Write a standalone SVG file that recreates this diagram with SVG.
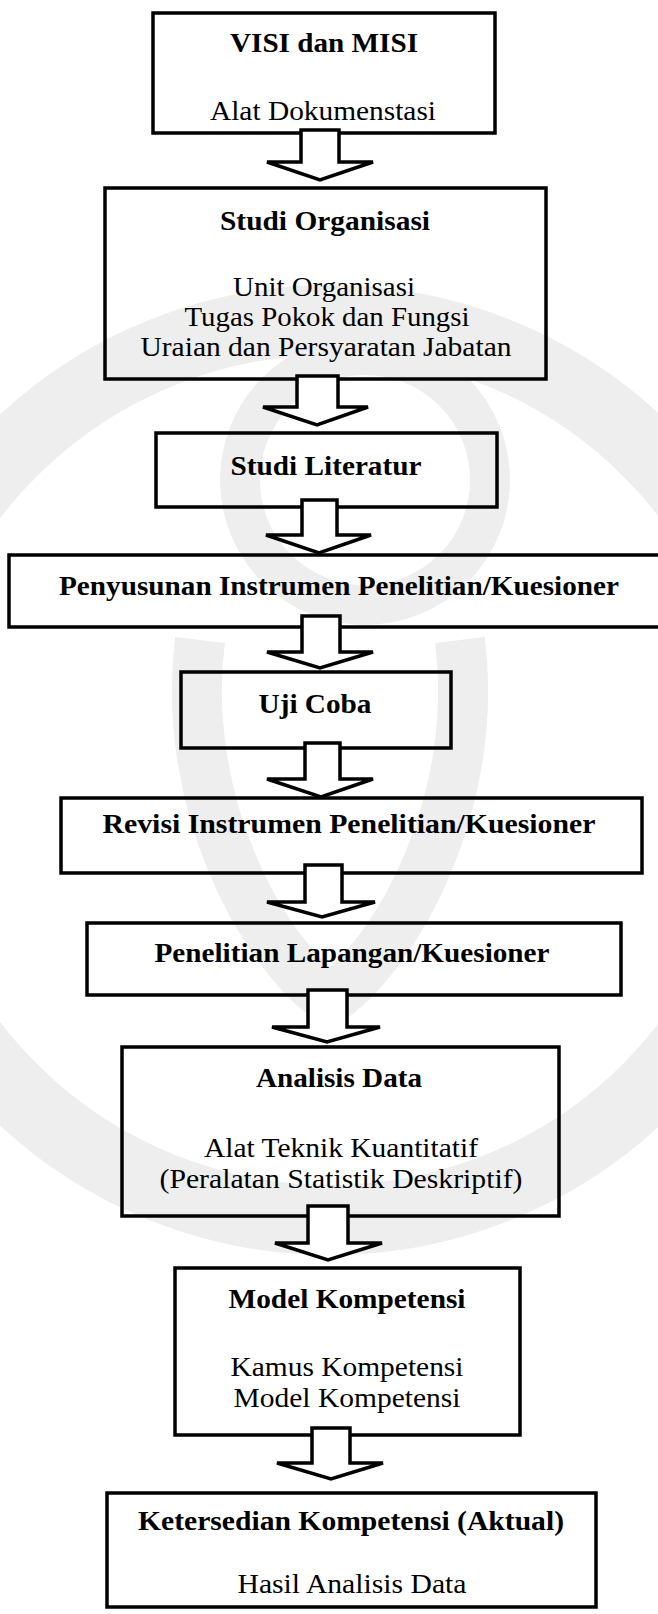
<svg xmlns="http://www.w3.org/2000/svg" width="658" height="1614" viewBox="0 0 658 1614">
<style>
.box{fill:none;stroke:#000;stroke-width:3.5}
.arr{fill:#fff;stroke:#000;stroke-width:3.5;stroke-linejoin:miter}
.t{font-family:"Liberation Serif","Times New Roman",serif;font-size:27px;fill:#000;text-anchor:middle}
.b{font-weight:bold;font-size:28px}
.wm{fill:none;stroke:#eeeeee}
</style>
<rect width="658" height="1614" fill="#fff"/>
<g id="watermark">
<circle class="wm" cx="330" cy="770" r="450" stroke-width="70"/>
<circle class="wm" cx="365" cy="480" r="125" stroke-width="40"/>
<path class="wm" d="M200,640 C180,800 260,950 330,1000 C400,950 480,800 460,640" stroke-width="50"/>
</g>
<g id="n1"><rect class="box" x="153" y="13" width="342" height="120"/>
<text class="t b" x="324" y="52" textLength="188" lengthAdjust="spacingAndGlyphs">VISI dan MISI</text>
<text class="t" x="323" y="120" textLength="226" lengthAdjust="spacingAndGlyphs">Alat Dokumenstasi</text></g>
<g id="n2"><rect class="box" x="105" y="188" width="441" height="191"/>
<text class="t b" x="325" y="230" textLength="210" lengthAdjust="spacingAndGlyphs">Studi Organisasi</text>
<text class="t" x="324" y="296" textLength="182" lengthAdjust="spacingAndGlyphs">Unit Organisasi</text>
<text class="t" x="327" y="326" textLength="285" lengthAdjust="spacingAndGlyphs">Tugas Pokok dan Fungsi</text>
<text class="t" x="326" y="356" textLength="371" lengthAdjust="spacingAndGlyphs">Uraian dan Persyaratan Jabatan</text></g>
<g id="n3"><rect class="box" x="156" y="433" width="341" height="74"/>
<text class="t b" x="326" y="475" textLength="191" lengthAdjust="spacingAndGlyphs">Studi Literatur</text></g>
<g id="n4"><rect class="box" x="9" y="555" width="661" height="72"/>
<text class="t b" x="339" y="595" textLength="560" lengthAdjust="spacingAndGlyphs">Penyusunan Instrumen Penelitian/Kuesioner</text></g>
<g id="n5"><rect class="box" x="181" y="672" width="270" height="76"/>
<text class="t b" x="315" y="713" textLength="113" lengthAdjust="spacingAndGlyphs">Uji Coba</text></g>
<g id="n6"><rect class="box" x="61" y="798" width="581" height="75"/>
<text class="t b" x="349" y="833" textLength="493" lengthAdjust="spacingAndGlyphs">Revisi Instrumen Penelitian/Kuesioner</text></g>
<g id="n7"><rect class="box" x="87" y="923" width="534" height="72"/>
<text class="t b" x="352" y="962" textLength="395" lengthAdjust="spacingAndGlyphs">Penelitian Lapangan/Kuesioner</text></g>
<g id="n8"><rect class="box" x="122" y="1047" width="437" height="169"/>
<text class="t b" x="339" y="1087" textLength="166" lengthAdjust="spacingAndGlyphs">Analisis Data</text>
<text class="t" x="341" y="1157" textLength="274" lengthAdjust="spacingAndGlyphs">Alat Teknik Kuantitatif</text>
<text class="t" x="341" y="1188" textLength="363" lengthAdjust="spacingAndGlyphs">(Peralatan Statistik Deskriptif)</text></g>
<g id="n9"><rect class="box" x="175" y="1268" width="345" height="167"/>
<text class="t b" x="347" y="1308" textLength="237" lengthAdjust="spacingAndGlyphs">Model Kompetensi</text>
<text class="t" x="347" y="1376" textLength="233" lengthAdjust="spacingAndGlyphs">Kamus Kompetensi</text>
<text class="t" x="347" y="1407" textLength="227" lengthAdjust="spacingAndGlyphs">Model Kompetensi</text></g>
<g id="n10"><rect class="box" x="107" y="1493" width="489" height="114"/>
<text class="t b" x="351" y="1530" textLength="426" lengthAdjust="spacingAndGlyphs">Ketersedian Kompetensi (Aktual)</text>
<text class="t" x="352" y="1593" textLength="229" lengthAdjust="spacingAndGlyphs">Hasil Analisis Data</text></g>
<g id="connectors">
<polygon class="arr" points="301,130 339,130 339,162 373,162 320,180 267,162 301,162"/>
<polygon class="arr" points="297,376 338,376 338,407 368,407 317,425 263,407 297,407"/>
<polygon class="arr" points="302,500 337,500 337,535 371,535 319,553 266,535 302,535"/>
<polygon class="arr" points="302,616 340,616 340,652 373,652 320,668 267,652 302,652"/>
<polygon class="arr" points="305,743 340,743 340,779 373,779 321,797 267,779 305,779"/>
<polygon class="arr" points="305,865 342,865 342,902 375,902 322,917 267,902 305,902"/>
<polygon class="arr" points="308,990 347,990 347,1027 380,1027 327,1042 272,1027 308,1027"/>
<polygon class="arr" points="308,1206 348,1206 348,1243 382,1243 328,1260 275,1243 308,1243"/>
<polygon class="arr" points="312,1428 350,1428 350,1463 383,1463 331,1479 277,1463 312,1463"/>
</g>
</svg>
